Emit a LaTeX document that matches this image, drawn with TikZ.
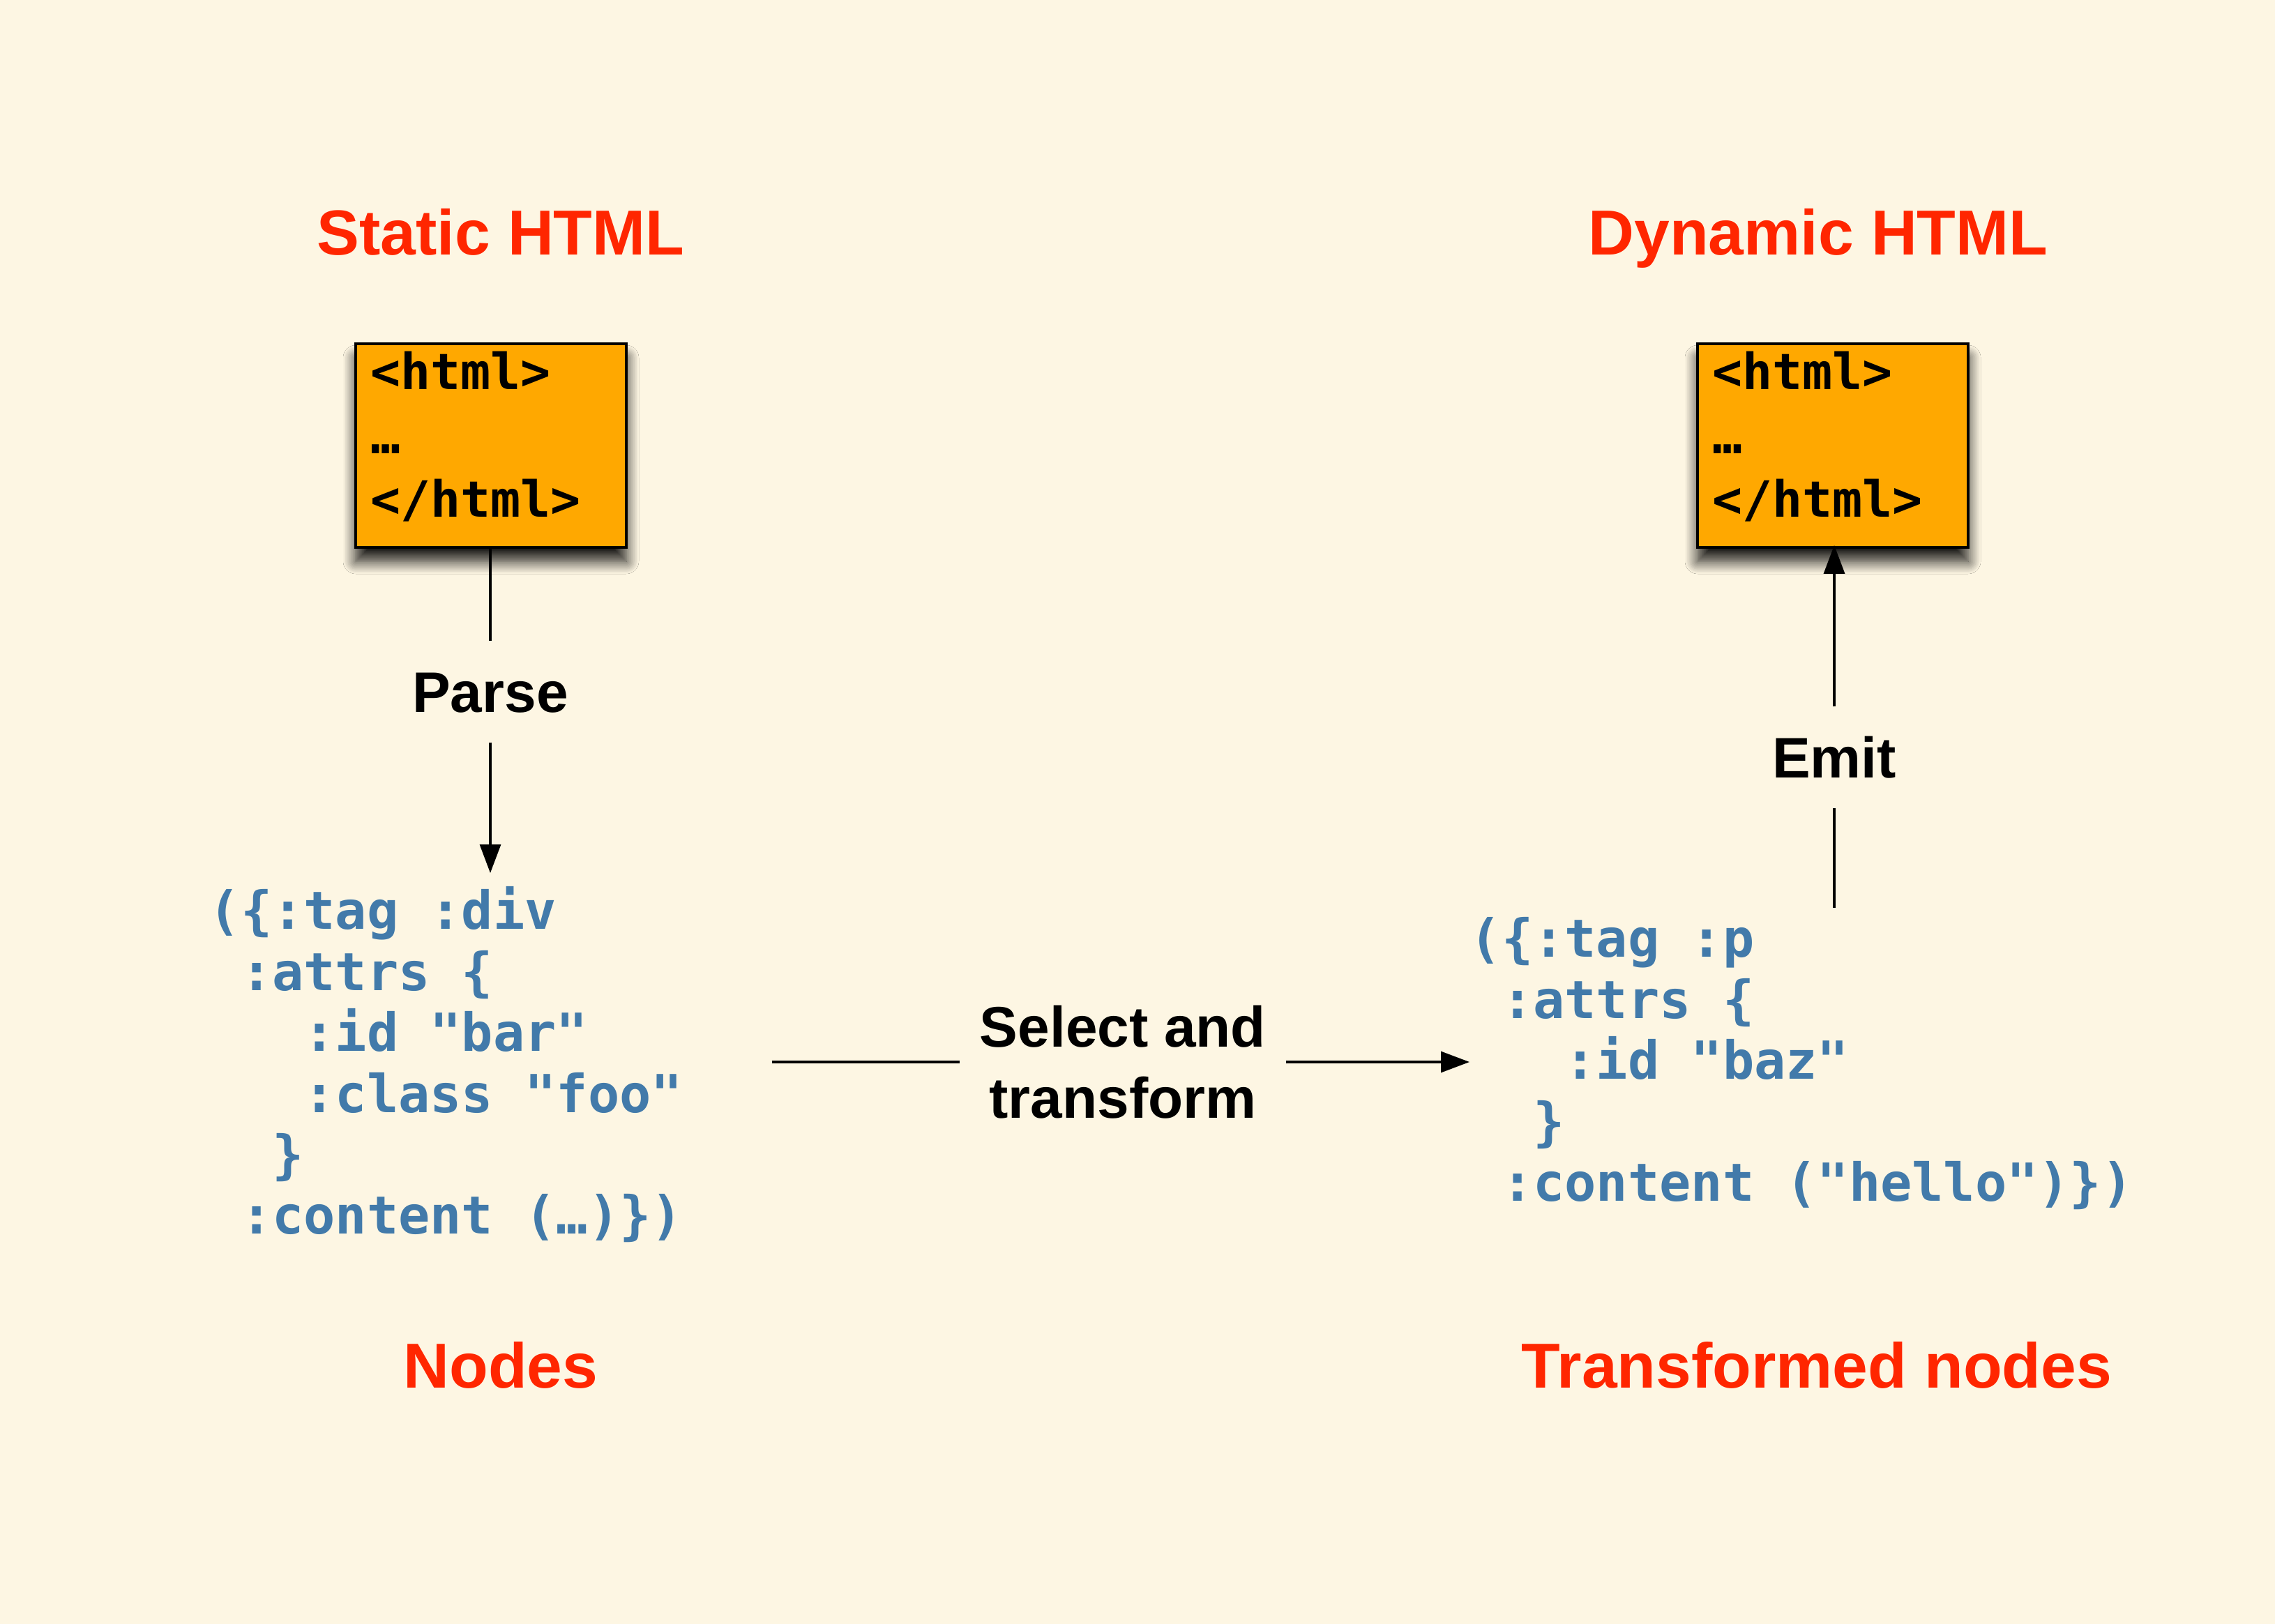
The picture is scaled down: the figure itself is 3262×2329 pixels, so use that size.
\documentclass[tikz,border=0pt]{standalone}
\usepackage{fontspec}
\setmainfont{Liberation Sans}
\newfontfamily\codefont{DejaVu Sans Mono}
\usepackage{tikz}
\usetikzlibrary{arrows.meta, shadows.blur}

\definecolor{bgcream}{RGB}{253,246,227}
\definecolor{titlered}{RGB}{255,38,0}
\definecolor{codeblue}{RGB}{66,122,170}
\definecolor{boxorange}{RGB}{255,168,0}

\tikzset{
  title/.style={text=titlered, font=\fontsize{22.8}{27}\selectfont\bfseries, inner sep=0pt,
    text height=16.4pt, text depth=0pt},
  steplabel/.style={font=\fontsize{20.5}{25.5}\selectfont\bfseries,
    text height=14.7pt, text depth=0pt, inner ysep=10.6pt, inner xsep=7pt},
  twolabel/.style={font=\fontsize{20.5}{25.5}\selectfont\bfseries, align=center, inner xsep=7pt},
  htmlbox/.style={draw=black, line width=0.83pt, fill=boxorange, minimum width=97pt, minimum height=73pt,
    inner sep=0pt, blur shadow={shadow xshift=0pt, shadow yshift=-5pt, shadow blur radius=4.5pt,
    shadow blur steps=12, shadow opacity=90}},
  boxtext/.style={font=\codefont\fontsize{17.9}{22.9}\selectfont\bfseries, align=left, inner sep=0pt},
  code/.style={text=codeblue, font=\codefont\fontsize{18.8}{21.85}\selectfont\bfseries, align=left, inner sep=0pt},
  flow/.style={line width=0.8pt, >={Triangle[length=10.25pt,width=7.5pt]}}
}

\begin{document}
\begin{tikzpicture}[x=0.25pt,y=0.25pt,yscale=-1,xscale=1]
\path[fill=bgcream] (0,0) rectangle (3262,2329);
\useasboundingbox (0,0) rectangle (3262,2329);

% Titles
\node[title] (static) at (718,333) {Static HTML};
\node[title] (dynamic) at (2607,333) {Dynamic HTML};
\node[title] (nodes) at (718,1958) {Nodes};
\node[title] (tnodes) at (2605,1958) {Transformed nodes};

% HTML boxes
\node[htmlbox] (lbox) at (704,639) {};
\node[boxtext, anchor=north west] (lhtml) at ([shift={(22,12)}]lbox.north west) {<html>\\…\\</html>};
\node[htmlbox] (rbox) at (2628,639) {};
\node[boxtext, anchor=north west] (rhtml) at ([shift={(22,12)}]rbox.north west) {<html>\\…\\</html>};

% Code
\node[code, anchor=north west] (lcode) at (299,1271) {(\{:tag :div\\
\ :attrs \{\\
\ \ \ :id "bar"\\
\ \ \ :class "foo"\\
\ \ \}\\
\ :content (…)\})};
\node[code, anchor=north west] (rcode) at (2107,1315) {(\{:tag :p\\
\ :attrs \{\\
\ \ \ :id "baz"\\
\ \ \}\\
\ :content ("hello")\})};

% Step labels
\node[steplabel] (parse) at (703,992) {Parse};
\node[steplabel] (emit) at (2630,1086) {Emit};
\node[twolabel] (select) at (1610,1523) {Select and\\transform};

% Connectors
\draw[flow] (lbox.south -| parse) -- (parse.north);
\draw[flow,->,shorten >=4.75pt] (parse.south) -- (parse |- lcode.north);
\draw[flow,shorten <=3.25pt] (emit |- rcode.north) -- (emit.south);
\draw[flow,->,shorten >=-1.2pt] (emit.north) -- (emit |- rbox.south);
\draw[flow,shorten <=31.75pt] (lcode.east |- select.west) -- (select.west);
\draw[flow,->] (select.east) -- (select.east -| rcode.west);

\end{tikzpicture}
\end{document}
